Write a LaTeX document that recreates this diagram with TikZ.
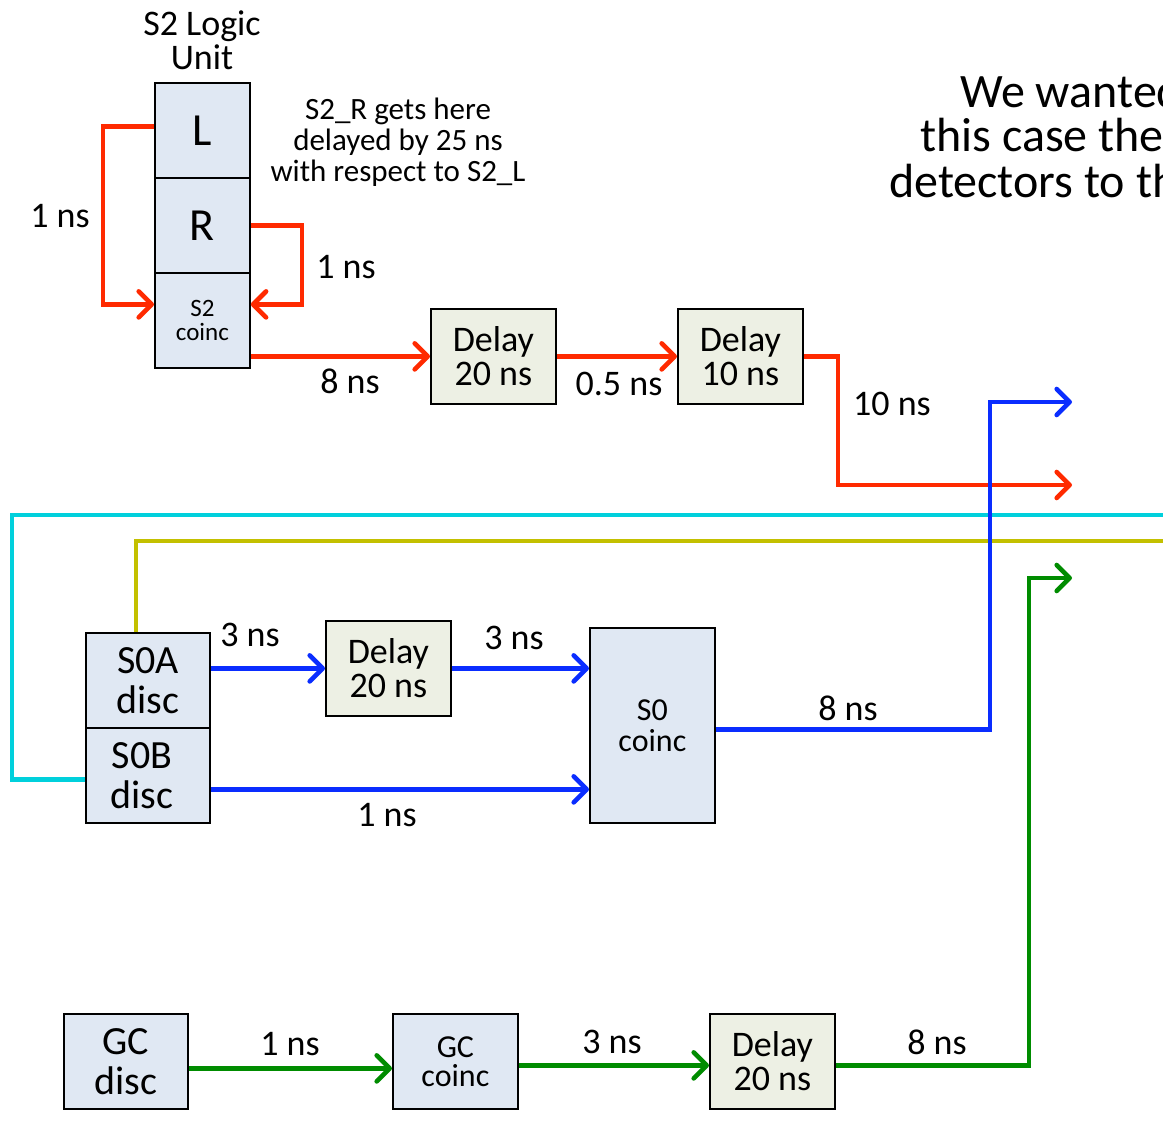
\documentclass[tikz,border=0pt]{standalone}
\usepackage{fontspec}
\setmainfont{Carlito}
\usetikzlibrary{arrows.meta,calc}
\definecolor{cred}{RGB}{255,42,0}
\definecolor{cblue}{RGB}{10,45,255}
\definecolor{cgreen}{RGB}{0,140,0}
\definecolor{ccyan}{RGB}{0,208,220}
\definecolor{colive}{RGB}{195,192,0}
\definecolor{bfill}{RGB}{224,232,243}
\definecolor{dfill}{RGB}{237,240,228}
\tikzset{
  box/.style={draw=black,line width=1.8pt,inner sep=0pt,align=center,anchor=north west,minimum width=95pt,minimum height=95pt},
  lbox/.style={box,fill=bfill},
  dbox/.style={box,fill=dfill},
  wire/.style={line width=4.6pt},
  arr/.style={wire,-{Straight Barb[length=13pt,width=26pt,round]}},
  lab/.style={font=\fontsize{36}{34}\selectfont,inner sep=0pt},
  f36/.style={font=\fontsize{36}{34}\selectfont,align=center},
}
\begin{document}
\begin{tikzpicture}[x=1pt,y=-1pt]
\useasboundingbox (0,0) rectangle (1163,1139);
\clip (0,0) rectangle (1163,1139);
\fill[white] (0,0) rectangle (1163,1139);

% top-right text (cut by the picture's edge, as in the original)
\node[font=\fontsize{48}{46}\selectfont,anchor=base west,inner sep=0pt] (t1) at (960,108) {We wanted};
\node[font=\fontsize{48}{46}\selectfont,anchor=base west,inner sep=0pt] (t2) at (920,152) {this case the};
\node[font=\fontsize{48}{46}\selectfont,anchor=base west,inner sep=0pt] (t3) at (889,198) {detectors to the};

% S2 logic unit
\node[f36,inner sep=0pt] (title) at (202,40) {S2 Logic\\Unit};
\node[lbox,font=\fontsize{46}{46}\selectfont] (L) at (154,82) {L};
\node[lbox,font=\fontsize{46}{46}\selectfont] (R) at (154,177) {R};
\node[lbox,font=\fontsize{25}{24}\selectfont] (S2c) at (154,272) {S2\\coinc};
\node[font=\fontsize{31}{31}\selectfont,align=center,inner sep=0pt] (note) at (398,142) {S2\_R gets here\\delayed by 25 ns\\with respect to S2\_L};

\node[dbox,f36,minimum width=125pt] (D20a) at (430,308) {Delay\\20 ns};
\node[dbox,f36,minimum width=125pt] (D10) at (677,308) {Delay\\10 ns};

\coordinate (redend) at (1072,485);
\draw[arr,cred] ([yshift=4pt]L.west) -- ++(-51,0) |- ([yshift=16pt]S2c.west);
\draw[arr,cred] (R.east) -- ++(51,0) |- ([yshift=16pt]S2c.east);
\draw[arr,cred] (S2c.east |- D20a.west) -- (D20a.west);
\draw[arr,cred] (D20a.east) -- (D10.west);
\draw[arr,cred] (D10.east) -- ++(34,0) |- (redend);

\node[lab] (l1) at (60,216) {1 ns};
\node[lab] (l2) at (346,267) {1 ns};
\node[lab] (l3) at (350,381) {8 ns};
\node[lab] (l4) at (619,384) {0.5 ns};
\node[lab] (l5) at (892,404) {10 ns};

% S0 section
\node[lbox,font=\fontsize{40}{40}\selectfont,minimum width=124pt] (S0A) at (85,632) {S0A\\disc};
\node[lbox,font=\fontsize{40}{40}\selectfont,minimum width=124pt] (S0B) at (85,727) {\hspace*{-12pt}S0B\\\hspace*{-12pt}disc};
\node[dbox,f36,minimum width=125pt] (D20b) at (325,620) {Delay\\20 ns};
\node[lbox,font=\fontsize{32}{31}\selectfont,minimum width=125pt,minimum height=195pt] (S0c) at (589,627) {S0\\coinc};

\coordinate (cyc) at (12,515);
\coordinate (cyend) at (1175,515);
\coordinate (olc) at (136,541);
\coordinate (olend) at (1175,541);
\coordinate (blend) at (1072,402);
\coordinate (b1) at ([yshift=-14pt]S0B.east);

\draw[wire,ccyan] ([yshift=-4pt]S0B.west) -| (cyc) -- (cyend);
\draw[wire,colive] (olc |- S0A.north) -- (olc) -- (olend);
\draw[arr,cblue] (S0A.east |- D20b.west) -- (D20b.west);
\draw[arr,cblue] (D20b.east) -- (S0c.west |- D20b.east);
\draw[arr,cblue] (b1) -- (b1 -| S0c.west);
\draw[arr,cblue] ([yshift=-4pt]S0c.east) -- ++(274,0) |- (blend);

\node[lab] (l6) at (250,635) {3 ns};
\node[lab] (l7) at (514,638) {3 ns};
\node[lab] (l8) at (387,815) {1 ns};
\node[lab] (l9) at (848,708) {8 ns};

% GC section
\node[lbox,font=\fontsize{40}{40}\selectfont,minimum width=124pt] (GCd) at (63,1013) {GC\\disc};
\node[lbox,font=\fontsize{32}{29}\selectfont,minimum width=125pt] (GCc) at (392,1013) {GC\\coinc};
\node[dbox,f36,minimum width=125pt] (D20c) at (709,1013) {Delay\\20 ns};

\coordinate (grend) at (1072,578);
\draw[arr,cgreen] ([yshift=-7pt]GCd.east) -- ([yshift=-7pt]GCd.east -| GCc.west);
\draw[arr,cgreen] ([yshift=-4pt]GCc.east) -- ([yshift=-4pt]GCc.east -| D20c.west);
\draw[arr,cgreen] ([yshift=-4pt]D20c.east) -- ++(193,0) |- (grend);

\node[lab] (l10) at (290,1044) {1 ns};
\node[lab] (l11) at (612,1042) {3 ns};
\node[lab] (l12) at (937,1042) {8 ns};
\end{tikzpicture}
\end{document}
